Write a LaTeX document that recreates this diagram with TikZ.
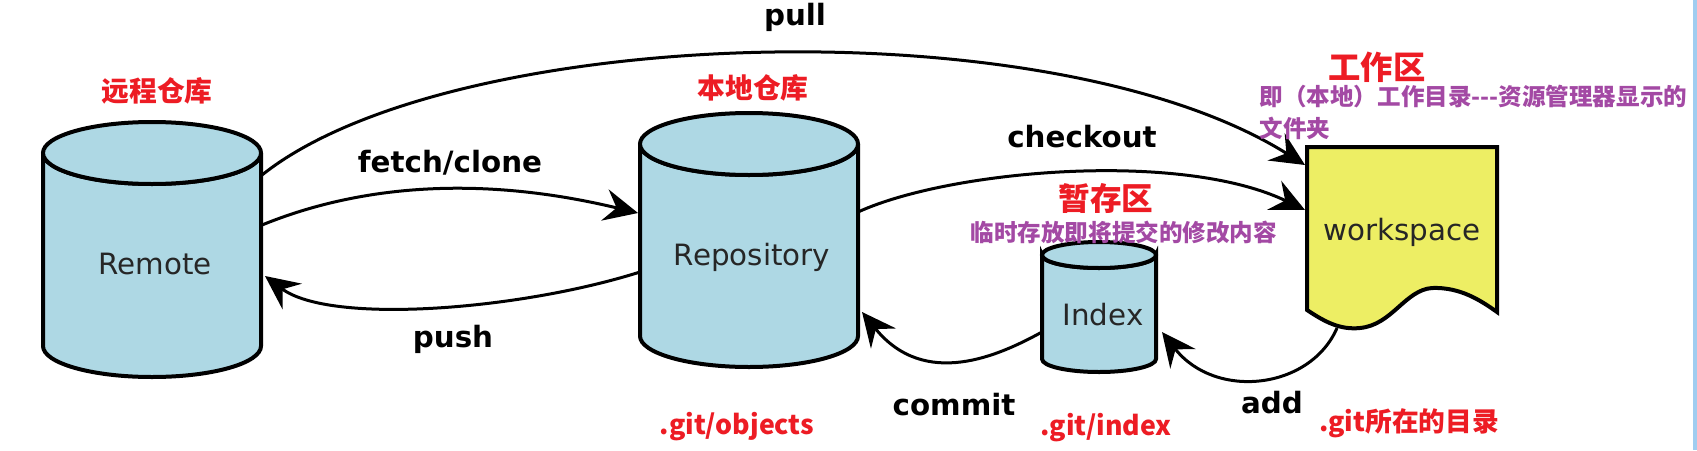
\documentclass[tikz,border=0pt]{standalone}
\usepackage{fontspec}
\usepackage{tikz}
\usetikzlibrary{arrows.meta}
\newfontfamily\enfont{DejaVu Sans}
\newfontfamily\cjk{Noto Sans CJK SC}
\definecolor{notered}{RGB}{237,28,36}
\definecolor{notepurple}{RGB}{163,73,164}
\definecolor{drumblue}{RGB}{174,216,228}
\definecolor{wsyellow}{RGB}{237,238,100}
\definecolor{edgeblue}{RGB}{160,205,240}
% a drum: center x, top y, bottom y, x radius, y radius
\newcommand{\drum}[5]{%
  \path[Drums] (#1-#4,#2) -- (#1-#4,#3) arc[start angle=180,end angle=0,x radius=#4,y radius=#5]
    -- (#1+#4,#2) arc[start angle=0,end angle=180,x radius=#4,y radius=#5] -- cycle;
  \path[Drums] (#1,#2) ellipse[x radius=#4,y radius=#5];
}

\begin{document}
\begin{tikzpicture}[
x=0.1mm, y=-0.1mm,
Drums/.style={draw=black,fill=drumblue,line width=0.4mm},
Flows/.style={draw=black,line width=0.3mm,-{Stealth[length=3.4mm,width=3.2mm,inset=1.2mm]}},
BoxText/.style={font=\enfont\fontsize{8.35}{10}\selectfont,text=black!85,anchor=base,inner sep=0},
FlowText/.style={font=\enfont\bfseries\fontsize{8.35}{10}\selectfont,anchor=base,inner sep=0},
RedNotes/.style={font=\cjk\bfseries\fontsize{#1}{#1}\selectfont,text=notered,inner sep=0},
PurpleNotes/.style={font=\cjk\bfseries\fontsize{6.7}{8}\selectfont,text=notepurple,anchor=west,inner sep=0}
]
\fill[white] (0,0) rectangle (1697,450);
\useasboundingbox (0,0) rectangle (1697,450);
\fill[edgeblue] (1693,0) rectangle (1697,450);

% the three stores
\drum{152}{153}{346}{109}{31}
\drum{749}{144}{336}{109}{31}
\drum{1099}{255}{359}{57}{13}

% the working sheet
\path[draw=black,fill=wsyellow,line width=0.4mm] (1307,147) -- (1307,310)
  .. controls (1325,322) and (1340,330) .. (1360,328)
  .. controls (1392,325) and (1405,290) .. (1432,288)
  .. controls (1460,287) and (1480,300) .. (1497,312) -- (1497,147) -- cycle;

\node[BoxText] (remote) at (155,274) {Remote};
\node[BoxText] (repo) at (752,265) {Repository};
\node[BoxText] (index) at (1103,325) {Index};
\node[BoxText] (ws) at (1402,240) {workspace};

% ends of the arrows
\coordinate (pullA) at (262,175);
\coordinate (pullB) at (1305,165);
\coordinate (fetchA) at (262,225);
\coordinate (fetchB) at (638,213);
\coordinate (pushA) at (640,272);
\coordinate (pushB) at (265,276);
\coordinate (checkA) at (858,212);
\coordinate (checkB) at (1305,210);
\coordinate (commitA) at (1042,332);
\coordinate (commitB) at (862,312);
\coordinate (addA) at (1337,328);
\coordinate (addB) at (1162,332);

\draw[Flows] (pullA) .. controls (450,25) and (1050,5) .. (pullB);
\draw[Flows] (fetchA) .. controls (360,185) and (480,175) .. (fetchB);
\draw[Flows] (pushA) .. controls (520,310) and (330,325) .. (pushB);
\draw[Flows] (checkA) .. controls (950,170) and (1180,150) .. (checkB);
\draw[Flows] (commitA) .. controls (1000,355) and (925,390) .. (commitB);
\draw[Flows] (addA) .. controls (1310,390) and (1215,400) .. (addB);

\node[FlowText] (pullLbl) at (795,25) {pull};
\node[FlowText] (fetchLbl) at (450,172) {fetch/clone};
\node[FlowText] (pushLbl) at (453,347) {push};
\node[FlowText] (checkLbl) at (1082,147) {checkout};
\node[FlowText] (commitLbl) at (954,415) {commit};
\node[FlowText] (addLbl) at (1272,413) {add};

\node[RedNotes=7.9] (remoteNote) at (157,91) {远程仓库};
\node[RedNotes=7.9] (localNote) at (753,88) {本地仓库};
\node[RedNotes=9] (stageNote) at (1106,198) {暂存区};
\node[RedNotes=9.2] (workNote) at (1377,67) {工作区};
\node[RedNotes=7.6] (objNote) at (737,427) {.git/objects};
\node[RedNotes=7.6] (idxNote) at (1106,428) {.git/index};
\node[RedNotes=7.6] (wsNote) at (1409,423) {.git所在的目录};

\node[PurpleNotes] (stageTip) at (970,232) {临时存放即将提交的修改内容};
\node[PurpleNotes] (workTip) at (1259,97) {即（本地）工作目录-\kern0pt-\kern0pt-资源管理器显示的};
\node[PurpleNotes] (workTipB) at (1259,128) {文件夹};

\end{tikzpicture}
\end{document}
